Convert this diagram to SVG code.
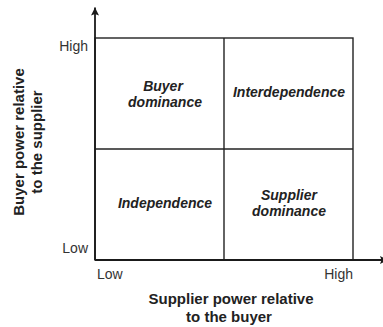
<svg xmlns="http://www.w3.org/2000/svg" width="383" height="327" viewBox="0 0 383 327">
  <style>
    .grid { fill: none; stroke: #222; stroke-width: 1.4; }
    .axis { fill: none; stroke: #1a1a1a; stroke-width: 1.8; }
    .cell { font-family: "Liberation Sans", Arial, sans-serif; font-size: 14px; font-weight: bold; font-style: italic; fill: #222; text-anchor: middle; }
    .tick { font-family: "Liberation Sans", Arial, sans-serif; font-size: 14px; fill: #333; }
    .title { font-family: "Liberation Sans", Arial, sans-serif; font-size: 15px; font-weight: bold; fill: #222; text-anchor: middle; }
  </style>
  <defs>
    <marker id="arrow" viewBox="-1 -5 10 10" refX="8" refY="0" markerWidth="10" markerHeight="10" markerUnits="userSpaceOnUse" orient="auto">
      <path d="M8,0 L0,-4 L1.5,0 L0,4 Z" fill="#1a1a1a"/>
    </marker>
  </defs>
  <rect width="383" height="327" fill="#ffffff"/>

  <g id="grid">
    <rect class="grid" x="95" y="38" width="258" height="222"/>
    <line class="grid" x1="95" y1="149" x2="353" y2="149"/>
    <line class="grid" x1="224" y1="38" x2="224" y2="260"/>
  </g>

  <g id="connectors">
    <line class="axis" x1="95" y1="260" x2="95" y2="7.5" marker-end="url(#arrow)"/>
    <line class="axis" x1="95" y1="260" x2="388" y2="260" marker-end="url(#arrow)"/>
  </g>

  <g id="buyer-dominance">
    <text class="cell" x="163" y="91">Buyer</text>
    <text class="cell" x="165" y="107">dominance</text>
  </g>
  <g id="interdependence">
    <text class="cell" x="289" y="97">Interdependence</text>
  </g>
  <g id="independence">
    <text class="cell" x="165" y="208">Independence</text>
  </g>
  <g id="supplier-dominance">
    <text class="cell" x="289" y="200">Supplier</text>
    <text class="cell" x="289" y="216">dominance</text>
  </g>

  <g id="tick-labels">
    <text class="tick" x="88" y="50.5" text-anchor="end">High</text>
    <text class="tick" x="88" y="253" text-anchor="end">Low</text>
    <text class="tick" x="97" y="279">Low</text>
    <text class="tick" x="353" y="278.5" text-anchor="end">High</text>
  </g>

  <g id="y-axis-title">
    <text class="title" transform="translate(24,142) rotate(-90)">Buyer power relative</text>
    <text class="title" transform="translate(42,142) rotate(-90)">to the supplier</text>
  </g>
  <g id="x-axis-title">
    <text class="title" x="231" y="304">Supplier power relative</text>
    <text class="title" x="229" y="322">to the buyer</text>
  </g>
</svg>
